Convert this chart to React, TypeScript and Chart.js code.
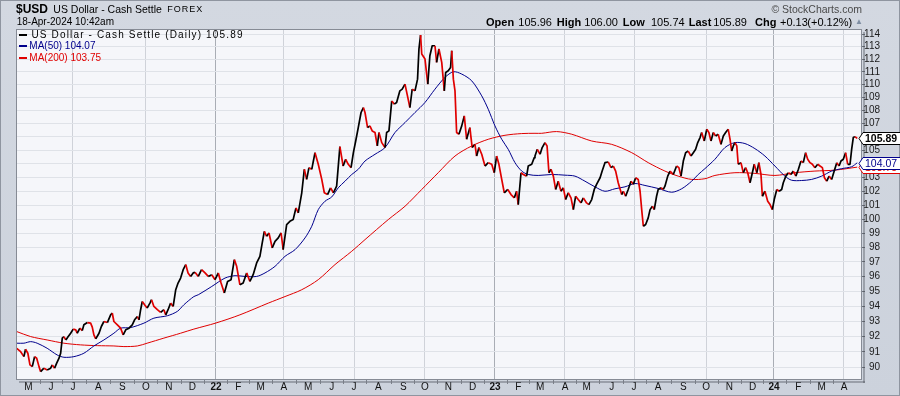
import React, { useEffect, useRef } from "react";
import { Chart, registerables } from "chart.js";

Chart.register(...registerables);

// Time axis: months since 1 Jan 2021 (as laid out on the chart)
const priceT = [
  3.43, 3.6, 3.74, 3.81, 3.91, 4.0, 4.1, 4.2, 4.29, 4.39, 4.46, 4.6, 4.74, 4.89, 4.96, 5.06, 5.15, 5.25, 5.32, 5.39,
  5.46, 5.54, 5.6, 5.75, 5.86, 5.97, 6.03, 6.15, 6.25, 6.32, 6.47, 6.61, 6.68, 6.75, 6.83, 6.97, 7.07, 7.18, 7.33, 7.47,
  7.54, 7.61, 7.76, 7.9, 8.01, 8.12, 8.26, 8.4, 8.5, 8.62, 8.69, 8.76, 8.83, 8.93, 9.04, 9.16, 9.23, 9.33, 9.48, 9.62,
  9.76, 9.84, 9.94, 10.05, 10.16, 10.27, 10.37, 10.48, 10.59, 10.7, 10.8, 10.91, 11.02,
  11.1, 11.24, 11.38, 11.53, 11.67, 11.82, 11.96, 12.1, 12.22, 12.36, 12.5, 12.65, 12.79, 12.89, 13.03, 13.17, 13.32,
  13.46, 13.6, 13.75, 13.89, 13.99, 14.08, 14.18, 14.28, 14.42, 14.54, 14.68, 14.8, 14.89, 15.04, 15.18, 15.32, 15.44,
  15.54, 15.69, 15.8, 15.9, 16.0, 16.12, 16.26, 16.4, 16.55, 16.66, 16.8, 16.93, 17.05, 17.19, 17.33, 17.47, 17.58,
  17.69, 17.81, 17.91, 18.01, 18.12, 18.24,
  18.34, 18.41, 18.52, 18.62, 18.72, 18.84, 18.94, 19.01, 19.13, 19.27, 19.34, 19.44, 19.56, 19.67, 19.77, 19.91, 20.01,
  20.13, 20.25, 20.34, 20.44, 20.56, 20.67, 20.73, 20.8, 20.85, 20.99, 21.11, 21.2, 21.3, 21.42, 21.49, 21.59, 21.71,
  21.82, 21.88, 21.99, 22.09, 22.14, 22.21, 22.28, 22.35, 22.45, 22.57, 22.68, 22.78, 22.92, 23.02, 23.14, 23.21, 23.31,
  23.43, 23.57, 23.71, 23.86, 23.97, 24.07, 24.17, 24.29, 24.4, 24.55, 24.69, 24.83, 24.93, 25.0, 25.12, 25.22, 25.36,
  25.43, 25.58, 25.69,
  25.72, 25.82, 25.94, 26.03, 26.15, 26.24, 26.32, 26.41, 26.51, 26.61, 26.72, 26.84, 26.94, 27.04, 27.15, 27.27, 27.37,
  27.47, 27.58, 27.7, 27.8, 27.94, 28.04, 28.16, 28.27, 28.37, 28.52, 28.61, 28.73, 28.87, 28.99, 29.09, 29.19, 29.3,
  29.45, 29.52, 29.62, 29.73, 29.85, 29.95, 30.05, 30.16, 30.24, 30.31, 30.38, 30.48, 30.59, 30.67, 30.77, 30.85, 30.95,
  31.02, 31.14, 31.24, 31.31, 31.43, 31.53, 31.67, 31.81, 31.91, 32.0, 32.1, 32.2, 32.31, 32.43, 32.53, 32.63, 32.72,
  32.82, 32.89, 33.0,
  33.11, 33.2, 33.29, 33.39, 33.49, 33.6, 33.72, 33.82, 33.92, 34.03, 34.11, 34.18, 34.25, 34.32, 34.4, 34.46, 34.58,
  34.68, 34.78, 34.87, 34.97, 35.07, 35.15, 35.26, 35.35, 35.44, 35.5, 35.61, 35.73, 35.83, 35.93, 36.01, 36.12, 36.22,
  36.33, 36.4, 36.51, 36.62, 36.73, 36.83, 36.94, 37.05, 37.16, 37.26, 37.36, 37.45, 37.55, 37.65, 37.76, 37.88, 37.98,
  38.08, 38.17, 38.27, 38.37, 38.48, 38.59, 38.7, 38.8, 38.88, 38.98, 39.08, 39.17, 39.27, 39.34, 39.41, 39.48, 39.58,
];
const priceV = [
  91.24, 91.02, 90.7, 91.18, 90.92, 90.17, 90.06, 90.7, 90.6, 90.06, 89.74, 89.96, 89.85, 89.96, 90.17, 89.96, 90.28, 90.6, 90.92, 91.9,
  92.0, 91.78, 91.9, 92.22, 92.49, 92.44, 92.22, 92.55, 92.39, 92.77, 92.92, 92.88, 92.62, 92.11, 91.85, 92.22, 92.66, 92.99, 92.92, 93.43,
  93.55, 92.99, 92.77, 92.55, 92.11, 92.44, 92.55, 92.77, 93.1, 93.32, 93.1, 93.77, 94.32, 94.1, 93.88, 94.21, 94.44, 93.99, 93.77, 93.59,
  93.77, 93.43, 93.77, 94.21, 93.99, 95.11, 95.56, 95.9, 96.47, 96.82, 96.25, 96.01, 96.25,
  96.29, 96.01, 96.47, 96.25, 96.01, 96.13, 95.79, 96.25, 95.56, 94.89, 95.67, 95.79, 97.16, 96.7, 95.44, 95.56, 96.25,
  95.67, 96.13, 96.93, 97.39, 98.32, 99.13, 98.78, 99.02, 97.97, 98.43, 98.67, 99.02, 97.85, 99.61, 99.84, 99.96, 100.79,
  100.44, 101.88, 103.59, 102.85, 103.71, 103.59, 104.82, 103.96, 102.85, 101.88, 101.75, 102.24, 101.88, 102.36, 105.27, 103.83, 104.33,
  103.96, 103.71, 104.82, 105.69, 106.7, 107.85,
  108.23, 107.85, 106.7, 106.83, 106.45, 106.33, 105.32, 106.33, 105.57, 105.2, 106.33, 106.45, 108.74, 108.49, 108.62, 109.52, 109.65,
  110.04, 109.01, 108.23, 109.65, 109.52, 110.43, 112.82, 113.94, 112.42, 112.02, 110.04, 112.28, 113.08, 113.08, 111.75, 112.82, 111.75,
  109.52, 110.96, 111.09, 111.35, 112.68, 110.43, 109.52, 106.33, 106.2, 106.83, 107.59, 105.82, 106.7, 105.2, 105.44, 104.57, 105.2,
  104.7, 103.83, 104.08, 103.96, 103.34, 104.57, 103.96, 102.85, 101.88, 102.12, 101.75, 101.51, 101.99, 101.03, 103.34, 103.21, 103.09,
  103.83, 103.96, 104.45,
  104.57, 105.07, 104.7, 105.2, 105.57, 105.32, 103.34, 103.59, 103.09, 102.12, 102.72, 101.99, 102.24, 101.39, 101.88, 101.51, 100.67,
  101.63, 101.39, 101.15, 101.51, 101.15, 101.03, 101.39, 102.12, 102.49, 102.97, 103.46, 104.08, 104.13, 103.71, 103.83, 103.46, 102.61,
  101.75, 101.99, 101.63, 102.12, 102.72, 102.49, 102.97, 102.85, 101.99, 100.67, 99.49, 99.61, 100.08, 100.67, 100.91, 100.67, 101.63,
  102.12, 102.24, 102.12, 102.36, 103.09, 103.46, 103.21, 103.83, 103.71, 103.09, 104.2, 104.82, 104.94, 104.57, 104.82, 105.07, 105.57,
  105.95, 106.33, 105.69,
  106.58, 106.33, 105.69, 106.33, 106.07, 106.2, 105.44, 106.07, 106.33, 106.58, 105.82, 104.94, 105.32, 105.57, 105.32, 103.96, 104.08,
  103.34, 103.71, 103.34, 102.61, 103.34, 103.96, 103.34, 104.08, 103.21, 101.63, 101.99, 101.27, 101.03, 100.67, 101.39, 102.12, 101.99,
  102.12, 102.61, 103.09, 103.34, 103.21, 103.46, 103.09, 103.59, 104.2, 104.08, 104.82, 104.33, 104.08, 103.96, 103.71, 103.96, 103.83,
  103.71, 102.97, 102.72, 103.09, 102.85, 103.46, 104.08, 103.83, 104.2, 104.33, 104.82, 103.96, 103.96, 105.07, 105.95, 106.02, 105.89,
];

const ma50T = [
  3.43, 3.74, 4.03, 4.31, 4.74, 5.17, 5.46, 5.89, 6.32, 6.75, 7.18, 7.61, 7.9, 8.33, 8.9, 9.33, 9.91, 10.34, 10.62, 11.05,
  11.24, 11.82, 12.39, 12.82, 13.25, 13.75, 14.11, 14.54, 14.97, 15.4, 15.83, 16.12, 16.4, 16.69, 16.98, 17.26, 17.55, 17.84,
  18.12, 18.41, 18.84, 19.27, 19.7, 20.13, 20.56, 20.99, 21.42, 21.85, 22.21, 22.57, 23.0, 23.43, 23.71, 24.0, 24.29, 24.57,
  24.86, 25.15, 25.43, 25.86, 26.44, 27.01, 27.44, 27.87, 28.3, 28.73, 29.16, 29.59, 30.02, 30.45, 31.02, 31.6, 32.03, 32.46,
  32.74, 33.03, 33.46, 33.89, 34.32, 34.75, 35.18, 35.61, 36.04, 36.47, 36.76, 37.19, 37.62, 38.05, 38.48, 38.91, 39.34, 39.58,
];
const ma50V = [
  91.57, 91.57, 91.67, 91.57, 91.24, 90.81, 90.66, 90.7, 90.92, 91.39, 91.78, 92.22, 92.55, 92.59, 92.88, 93.21, 93.37, 93.66, 94.1, 94.65,
  94.77, 95.33, 95.9, 96.06, 96.01, 96.01, 96.25, 96.7, 97.39, 97.85, 98.67, 99.49, 100.67, 101.27, 101.58, 102.24, 102.72, 103.21,
  103.59, 104.2, 104.7, 105.2, 106.33, 107.08, 107.85, 108.62, 109.65, 110.57, 111.01, 110.83, 110.3, 109.13, 108.1, 106.83, 105.82, 105.07,
  104.08, 103.46, 103.21, 103.14, 103.21, 103.16, 103.09, 102.72, 102.31, 101.99, 102.17, 102.31, 102.55, 102.41, 102.19, 101.92, 102.17, 102.72,
  103.21, 103.64, 104.33, 105.2, 105.57, 105.5, 105.12, 104.57, 103.83, 103.09, 102.79, 102.77, 102.85, 103.09, 103.46, 103.64, 103.78, 104.07,
];

const ma200T = [
  3.43, 4.03, 4.74, 5.46, 6.18, 6.9, 7.61, 8.04, 8.62, 9.04, 9.76, 10.48, 11.05, 12.0, 13.03, 14.25, 14.97, 15.69, 16.4,
  17.12, 17.84, 18.41, 19.41, 20.13, 20.85, 21.56, 22.28, 23.0, 23.71, 24.43, 25.15, 25.72, 26.01, 26.65, 27.3, 28.16,
  29.02, 29.88, 30.59, 31.31, 31.88, 32.46, 33.03, 33.46, 34.32, 35.18, 36.04, 36.9, 37.76, 38.62, 39.58,
];
const ma200V = [
  92.33, 92.0, 91.78, 91.57, 91.46, 91.41, 91.39, 91.35, 91.39, 91.57, 91.9, 92.22, 92.49, 92.89, 93.43, 94.21, 94.65, 95.11, 95.79,
  96.82, 97.74, 98.55, 99.96, 100.91, 102.12, 103.34, 104.57, 105.32, 105.82, 106.12, 106.25, 106.27, 106.27, 106.4, 106.2, 105.69,
  105.44, 104.82, 104.08, 103.46, 103.09, 102.85, 102.9, 103.14, 103.34, 103.29, 103.14, 103.34, 103.46, 103.53, 103.75,
];

const yTickValues = [90, 91, 92, 93, 94, 95, 96, 97, 98, 99, 100, 101, 102, 103, 104, 105, 106, 107, 108, 109, 110, 111, 112, 113, 114];
const monthTickT = [
  3.93, 4.9, 5.85, 6.94, 7.97, 8.99, 9.97, 10.98, 12.0, 12.96, 13.92, 14.92, 15.97, 16.98, 17.94, 18.98, 20.06, 20.99,
  22.0, 23.04, 24.0, 25.0, 25.94, 27.01, 27.94, 29.02, 29.98, 31.02, 32.1, 33.08, 34.08, 35.08, 36.0, 37.05, 38.05, 39.01,
];
const monthTickLabels = [
  "M", "J", "J", "A", "S", "O", "N", "D", "22", "F", "M", "A", "M", "J", "J", "A", "S", "O",
  "N", "D", "23", "F", "M", "A", "M", "J", "J", "A", "S", "O", "N", "D", "24", "F", "M", "A",
];
const firstTickMonth = 4; // May
const xMin = 3.4;
const xMax = 39.785;
const yMin = 89.21;
const yMax = 114.43;

const SANS = "'Liberation Sans', Arial, Helvetica, sans-serif";
const NARROW = "'Liberation Sans Narrow', 'Arial Narrow', 'Liberation Sans', sans-serif";
const RED = "#e00000";
const BLUE = "#00008c";

const monthOf = (i: number) => (firstTickMonth + i) % 12;

const framePlugin = {
  id: "frame",
  beforeDraw(chart: any) {
    const { ctx, chartArea: a, width, height } = chart;
    ctx.save();
    const g = ctx.createLinearGradient(0, 0, 0, height);
    g.addColorStop(0, "#d3d8e1");
    g.addColorStop(1, "#ccd2dc");
    ctx.fillStyle = g;
    ctx.fillRect(0, 0, width, height);
    ctx.fillStyle = "#f5f6fa";
    ctx.fillRect(a.left, a.top, a.right - a.left, a.bottom - a.top);
    ctx.restore();
  },
  afterDatasetsDraw(chart: any) {
    const { ctx, chartArea: a, width, height } = chart;
    ctx.save();
    ctx.fillStyle = "rgba(60,65,75,0.35)";
    ctx.fillRect(a.right + 1, a.top + 3, 2, a.bottom - a.top);
    ctx.fillRect(a.left + 3, a.bottom + 1, a.right - a.left, 2);
    ctx.strokeStyle = "#868b95";
    ctx.lineWidth = 1;
    ctx.strokeRect(Math.round(a.left) + 0.5, Math.round(a.top) + 0.5, Math.round(a.right - a.left) - 1, Math.round(a.bottom - a.top) - 1);
    const xs = chart.scales.x;
    ctx.strokeStyle = "#7a7f88";
    for (let i = 0; i < monthTickT.length - 1; i++) {
      const px = Math.round(xs.getPixelForValue((monthTickT[i] + monthTickT[i + 1]) / 2)) + 0.5;
      ctx.beginPath();
      ctx.moveTo(px, a.bottom);
      ctx.lineTo(px, a.bottom + 4);
      ctx.stroke();
    }
    ctx.strokeStyle = "#8f95a0";
    ctx.strokeRect(0.5, 0.5, width - 1, height - 1);
    ctx.restore();
  },
  afterDraw(chart: any) {
    const { ctx, chartArea: a, width } = chart;
    const ys = chart.scales.y;
    const flags = [
      { v: ma200V[ma200V.length - 1], c: RED, bold: false },
      { v: ma50V[ma50V.length - 1], c: BLUE, bold: false },
      { v: priceV[priceV.length - 1], c: "#000000", bold: true },
    ];
    ctx.save();
    for (const f of flags) {
      const y = Math.round(ys.getPixelForValue(f.v)) + 0.5;
      ctx.beginPath();
      ctx.moveTo(a.right - 3, y);
      ctx.lineTo(a.right + 1, y - 6);
      ctx.lineTo(width + 2, y - 6);
      ctx.lineTo(width + 2, y + 6);
      ctx.lineTo(a.right + 1, y + 6);
      ctx.closePath();
      ctx.fillStyle = "#ffffff";
      ctx.fill();
      ctx.strokeStyle = f.c;
      ctx.lineWidth = 1;
      ctx.stroke();
      ctx.fillStyle = f.c;
      ctx.font = `${f.bold ? "bold " : ""}10.5px ${SANS}`;
      ctx.textBaseline = "middle";
      ctx.textAlign = "left";
      ctx.fillText(f.v.toFixed(2), a.right + 3, y + 0.5);
    }
    ctx.restore();
  },
};

function Txt(props: { x: number; base: number; size: number; text: string; bold?: boolean; color?: string; right?: boolean; ls?: number }) {
  const { x, base, size, text, bold, color, right, ls } = props;
  const style: any = {
    position: "absolute",
    top: base - 0.8465 * size,
    fontSize: size,
    lineHeight: `${size}px`,
    fontFamily: SANS,
    fontWeight: bold ? "bold" : "normal",
    color: color || "#000",
    whiteSpace: "nowrap",
    letterSpacing: ls ? `${ls}px` : undefined,
  };
  if (right) style.right = 900 - x;
  else style.left = x;
  return <div style={style}>{text}</div>;
}

function LegendRow(props: { y: number; color: string; text: string; textX: number; ls?: number }) {
  const { y, color, text, textX, ls } = props;
  return (
    <>
      <div style={{ position: "absolute", left: 19, top: y - 1, width: 8, height: 2, background: color }} />
      <Txt x={textX} base={y + 3.6} size={10} text={text} color={color} ls={ls} />
    </>
  );
}

export default function App() {
  const ref = useRef<HTMLCanvasElement | null>(null);

  useEffect(() => {
    const canvas = ref.current;
    if (!canvas) return;
    Chart.defaults.font.family = SANS;
    const chart = new Chart(canvas, {
      type: "line",
      data: {
        datasets: [
          {
            label: "US Dollar - Cash Settle",
            data: priceT.map((t, i) => ({ x: t, y: priceV[i] })),
            borderColor: "#000000",
            borderWidth: 1.7,
            pointRadius: 0,
            tension: 0,
            borderJoinStyle: "round",
            order: 0,
            segment: {
              borderColor: (c: any) => (c.p1.parsed.y < c.p0.parsed.y ? RED : "#000000"),
            },
          },
          {
            label: "MA(50)",
            data: ma50T.map((t, i) => ({ x: t, y: ma50V[i] })),
            borderColor: BLUE,
            borderWidth: 1,
            pointRadius: 0,
            tension: 0.3,
            order: 1,
          },
          {
            label: "MA(200)",
            data: ma200T.map((t, i) => ({ x: t, y: ma200V[i] })),
            borderColor: RED,
            borderWidth: 1,
            pointRadius: 0,
            tension: 0.3,
            order: 2,
          },
        ],
      } as any,
      options: {
        animation: false,
        responsive: false,
        devicePixelRatio: 1,
        events: [],
        layout: { padding: { left: 16, top: 29, right: 20, bottom: 0 } },
        plugins: { legend: { display: false }, tooltip: { enabled: false } },
        scales: {
          x: {
            type: "linear",
            min: xMin,
            max: xMax,
            bounds: "data",
            afterBuildTicks: (s: any) => {
              s.ticks = monthTickT.map((v) => ({ value: v }));
            },
            afterFit: (s: any) => {
              s.height = 16;
            },
            grid: {
              drawTicks: false,
              lineWidth: 1,
              color: (c: any) => {
                const m = monthOf(c.index ?? 0);
                if (m === 0) return "#a9adb5";
                if (m % 3 === 0) return "#cfd2d9";
                return "rgba(0,0,0,0)";
              },
            },
            border: { display: false },
            ticks: {
              autoSkip: false,
              maxRotation: 0,
              minRotation: 0,
              padding: 1,
              color: "#111111",
              font: (c: any) => ({ family: SANS, size: 10, weight: monthOf(c.index ?? 0) === 0 ? "bold" : "normal" }),
              callback: (_v: any, i: number) => monthTickLabels[i],
            },
          },
          y: {
            type: "logarithmic",
            position: "right",
            min: yMin,
            max: yMax,
            bounds: "data",
            afterBuildTicks: (s: any) => {
              s.ticks = yTickValues.map((v) => ({ value: v }));
            },
            afterFit: (s: any) => {
              s.width = 18;
            },
            grid: { color: "#dfe2e8", lineWidth: 1, tickLength: 3, tickColor: "#6d727b", drawTicks: true },
            border: { display: false },
            ticks: {
              autoSkip: false,
              crossAlign: "far",
              padding: 1,
              color: "#1a1a1a",
              font: { family: NARROW, size: 10 },
              callback: (v: any) => String(v),
            },
          },
        },
      } as any,
      plugins: [framePlugin],
    });
    return () => chart.destroy();
  }, []);

  return (
    <div style={{ position: "fixed", left: 0, top: 0, width: 900, height: 396, overflow: "hidden" }}>
      <canvas ref={ref} width={900} height={396} style={{ display: "block", width: 900, height: 396 }} />
      <Txt x={16} base={12.7} size={12} bold text="$USD" />
      <Txt x={53.3} base={12.7} size={10.5} text="US Dollar - Cash Settle" />
      <Txt x={167.3} base={12.2} size={9} ls={1} text="FOREX" />
      <Txt x={16.7} base={25.7} size={10} text="18-Apr-2024 10:42am" />
      <Txt x={862} right base={13.3} size={10.5} color="#4a4a4a" text="© StockCharts.com" />
      <Txt x={486} base={26} size={11} bold text="Open" />
      <Txt x={518.3} base={26} size={11} text="105.96" />
      <Txt x={556.7} base={26} size={11} bold text="High" />
      <Txt x={584.3} base={26} size={11} text="106.00" />
      <Txt x={622.7} base={26} size={11} bold text="Low" />
      <Txt x={651} base={26} size={11} text="105.74" />
      <Txt x={688.7} base={26} size={11} bold text="Last" />
      <Txt x={713.3} base={26} size={11} text="105.89" />
      <Txt x={755} base={26} size={11} bold text="Chg" />
      <Txt x={780} base={26} size={11} text="+0.13" />
      <Txt x={807.3} base={26} size={11} text="(+0.12%)" />
      <Txt x={855} base={25} size={8} color="#7f8ea3" text="▲" />
      <LegendRow y={35} color="#000000" textX={31.5} ls={1.15} text="US Dollar - Cash Settle (Daily) 105.89" />
      <LegendRow y={46.3} color={BLUE} textX={29.3} text="MA(50) 104.07" />
      <LegendRow y={57.6} color={RED} textX={29.3} text="MA(200) 103.75" />
    </div>
  );
}
